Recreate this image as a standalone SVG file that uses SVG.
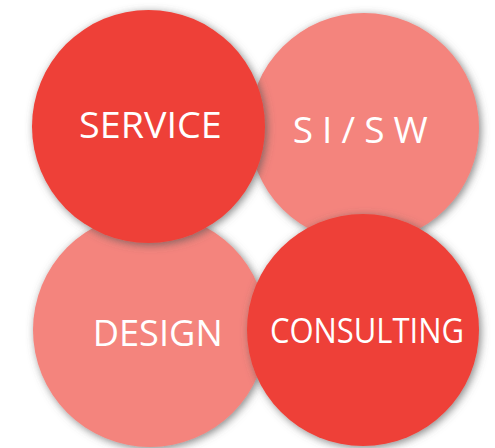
<svg xmlns="http://www.w3.org/2000/svg" width="495" height="448" viewBox="0 0 495 448">
<defs>
<filter id="sh" x="-20%" y="-20%" width="140%" height="140%">
<feDropShadow dx="2" dy="2" stdDeviation="4" flood-color="#555" flood-opacity="0.7"/>
</filter>
<style>
.dark{fill:#EE4137;filter:url(#sh)}
.light{fill:#F4847D;filter:url(#sh)}
.t{fill:#fff;font-family:"Open Sans","Noto Sans",sans-serif;font-size:37px}
</style>
</defs>
<rect width="495" height="448" fill="#fff"/>
<g id="sisw">
<circle class="light" cx="364" cy="128" r="115"/>
<text class="t" x="292.7" y="143" textLength="135" lengthAdjust="spacing">S I / S W</text>
</g>
<g id="design">
<circle class="light" cx="150" cy="330" r="117"/>
<text class="t" x="92.7" y="345.5" textLength="130" lengthAdjust="spacingAndGlyphs">DESIGN</text>
</g>
<g id="service">
<circle class="dark" cx="148.5" cy="126.5" r="116.5"/>
<text class="t" x="79" y="138" textLength="142.7" lengthAdjust="spacingAndGlyphs">SERVICE</text>
</g>
<g id="consulting">
<circle class="dark" cx="363" cy="330" r="116"/>
<text class="t" x="270" y="343.3" font-size="34" style="font-size:34px" textLength="194" lengthAdjust="spacingAndGlyphs">CONSULTING</text>
</g>
<g id="connectors"/>
</svg>
